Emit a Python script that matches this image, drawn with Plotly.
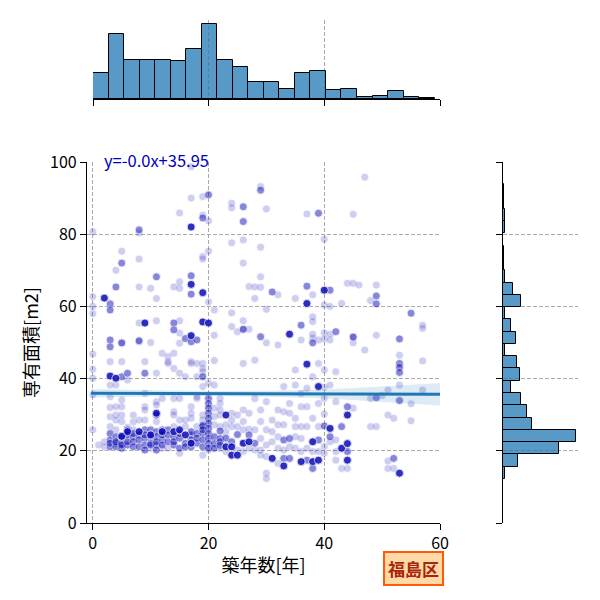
import numpy as np
import plotly.graph_objects as go

# points seen once (light)
age_light = [
    0, 0, 0, 0, 0, 0, 0, 0, 0,
    1,
    2, 2,
    3, 3, 3, 3, 3, 3,
    4, 4, 4, 4, 4, 4,
    5, 5, 5, 5, 5, 5, 5,
    6, 6, 6,
    7, 7, 7,
    8, 8, 8, 8, 8, 8,
    9, 9, 9, 9, 9,
    10, 10, 10,
    11, 11, 11, 11, 11, 11,
    12, 12, 12,
    13, 13, 13, 13,
    14, 14, 14, 14, 14, 14, 14,
    15, 15, 15, 15, 15, 15, 15, 15, 15, 15,
    16, 16, 16,
    17, 17, 17, 17, 17, 17, 17,
    18, 18, 18, 18, 18,
    19, 19, 19, 19, 19, 19, 19, 19, 19, 19, 19,
    20, 20, 20, 20, 20,
    21, 21, 21, 21, 21, 21, 21,
    22, 22, 22, 22, 22, 22,
    23, 23, 23,
    24, 24, 24, 24, 24, 24, 24, 24,
    25, 25, 25, 25,
    26, 26, 26, 26, 26, 26, 26, 26, 26,
    27, 27, 27, 27, 27,
    28, 28, 28, 28, 28, 28,
    29, 29, 29, 29, 29, 29, 29, 29, 29,
    30, 30, 30, 30, 30, 30, 30, 30, 30,
    31, 31, 31,
    32, 32, 32, 32, 32, 32, 32,
    33, 33, 33, 33,
    34, 34, 34,
    35, 35, 35, 35, 35, 35, 35,
    36, 36, 36, 36, 36, 36,
    37, 37, 37, 37, 37,
    38, 38, 38, 38, 38, 38, 38, 38,
    39, 39, 39, 39, 39,
    40, 40, 40, 40, 40, 40, 40, 40, 40, 40,
    41, 41, 41, 41, 41,
    42, 42, 42, 42, 42,
    43, 43,
    44, 44,
    45, 45, 45, 45, 45,
    46,
    47, 47,
    48, 48, 48,
    49, 49, 49,
    50,
    51, 51, 51, 51,
    52, 52,
    53, 53,
    55, 55,
    57, 57, 57, 57,
]
area_light = [
    80.7, 62.7, 60.0, 58.0, 46.8, 42.6, 40.1, 35.5, 25.8,
    21.6,
    22.5, 21.1,
    44.7, 38.2, 35.0, 32.0, 29.4, 26.7,
    70.0, 38.2, 32.2, 29.9, 28.5, 25.8,
    75.3, 49.8, 44.7, 34.1, 32.2, 29.9, 28.1,
    39.6, 23.5, 26.5,
    29.9, 25.8, 28.0,
    80.3, 73.1, 65.4, 55.4, 50.2, 28.5,
    44.7, 35.9, 32.2, 31.3, 28.5,
    65.0, 50.0, 20.7,
    62.2, 56.0, 41.5, 33.6, 32.7, 28.1,
    47.0, 34.5, 20.7,
    46.1, 44.7, 44.2, 20.7,
    65.4, 47.0, 42.8, 34.5, 30.8, 29.9, 26.7,
    85.9, 66.8, 65.0, 56.0, 52.6, 49.8, 41.5, 34.5, 28.5, 19.3,
    40.5, 28.5, 26.7,
    98.7, 90.0, 44.7, 44.2, 32.2, 30.4, 29.0,
    44.2, 40.5, 35.0, 34.5, 26.7,
    90.4, 85.3, 73.8, 73.1, 44.2, 42.8, 41.9, 37.8, 29.9, 28.5, 18.8,
    83.7, 75.3, 61.2, 38.7, 20.2,
    59.0, 52.0, 45.0, 38.2, 31.8, 29.5, 27.2,
    34.5, 33.1, 31.3, 29.9, 26.7, 20.7,
    27.2, 25.3, 19.8,
    88.6, 87.3, 77.6, 58.2, 54.4, 30.4, 28.5, 26.7,
    53.0, 29.9, 26.7, 20.2,
    78.4, 72.0, 56.0, 53.5, 44.2, 31.3, 28.1, 25.8, 19.8,
    65.5, 53.7, 30.4, 26.0, 20.7,
    65.4, 62.2, 45.1, 34.5, 25.8, 20.2,
    93.2, 76.4, 68.2, 65.3, 31.3, 28.1, 23.4, 20.2, 18.8,
    87.0, 59.2, 49.9, 33.6, 25.8, 21.6, 18.4, 13.8, 12.3,
    28.5, 25.3, 22.5,
    63.2, 49.3, 31.3, 27.2, 23.9, 20.7, 16.5,
    37.8, 30.8, 27.2, 20.2,
    33.1, 30.4, 21.1,
    62.2, 42.4, 38.2, 29.0, 26.7, 23.9, 20.7,
    50.7, 35.9, 32.2, 26.7, 23.4, 19.8,
    85.6, 37.3, 32.2, 26.7, 20.7,
    63.2, 57.1, 55.8, 51.2, 52.3, 40.5, 29.0, 19.8,
    50.7, 44.2, 33.1, 26.7, 19.8,
    78.6, 60.4, 52.7, 51.0, 42.4, 37.6, 34.5, 30.2, 21.2, 19.3,
    60.0, 50.7, 52.3, 38.2, 22.5,
    41.9, 33.6, 23.0, 19.8, 17.4,
    60.8, 15.1,
    66.4, 15.1,
    85.5, 66.4, 51.6, 49.9, 31.8,
    65.9,
    95.8, 47.9,
    61.6, 34.5, 26.7,
    65.9, 52.0, 26.7,
    35.3,
    36.8, 29.9, 17.2, 15.1,
    29.0, 15.1,
    46.5, 38.2,
    33.0, 28.3,
    54.8, 53.9, 44.9, 36.8,
]

# spots with a few listings on top of each other (medium)
age_mid = [
    3, 3, 3, 3, 3, 3, 3, 3,
    4, 4, 4, 4, 4,
    5, 5, 5, 5, 5, 5, 5,
    6, 6, 6, 6, 6,
    7, 7, 7, 7,
    8, 8, 8, 8, 8,
    9, 9, 9, 9, 9, 9,
    10, 10, 10, 10,
    11, 11, 11, 11, 11, 11, 11,
    12, 12, 12, 12,
    13, 13, 13,
    14, 14, 14, 14, 14,
    15, 15, 15,
    16, 16, 16,
    17, 17, 17, 17, 17, 17, 17,
    18, 18, 18, 18,
    19, 19, 19, 19, 19, 19, 19, 19,
    20, 20, 20, 20, 20, 20, 20, 20, 20, 20, 20, 20,
    21, 21, 21,
    22, 22, 22, 22,
    23, 24, 25,
    26, 26, 26,
    27, 28,
    29, 29,
    31,
    33, 33,
    34, 34,
    36,
    37, 37,
    38, 38,
    39, 39,
    40,
    41, 41,
    42, 43,
    44, 44,
    45,
    49, 49, 49,
    52,
    53, 53, 53, 53, 53,
    55,
]
area_mid = [
    60.7, 59.0, 50.7, 48.8, 24.8, 23.0, 21.1, 22.1,
    65.4, 23.9, 22.1, 21.1, 22.5,
    72.0, 49.9, 40.5, 23.9, 22.1, 20.7, 21.6,
    41.5, 25.8, 21.6, 22.5, 24.4,
    23.9, 22.5, 21.1, 24.8,
    81.2, 50.5, 24.4, 23.0, 21.1,
    41.5, 25.8, 23.5, 21.6, 20.2, 24.4,
    25.8, 23.9, 22.1, 21.6,
    68.2, 29.9, 25.3, 23.9, 21.6, 20.2, 22.5,
    25.8, 23.0, 24.4, 21.6,
    25.8, 22.5, 24.4,
    55.4, 53.5, 23.9, 21.6, 22.5,
    23.5, 20.7, 24.8,
    51.1, 22.1, 21.1,
    68.5, 63.4, 50.2, 24.4, 21.1, 25.3, 23.0,
    50.7, 24.8, 22.1, 23.5,
    84.5, 40.5, 26.7, 24.8, 23.0, 21.1, 27.0, 25.8,
    90.9, 34.5, 33.1, 31.8, 30.4, 29.0, 27.6, 26.2, 24.8, 23.4, 22.0, 20.7,
    23.9, 22.0, 20.7,
    23.4, 22.5, 25.5, 21.5,
    23.5, 22.5, 24.5,
    87.6, 83.5, 53.7,
    24.4, 22.1,
    92.2, 51.6,
    64.0,
    23.0, 17.9,
    23.4, 17.9,
    54.8,
    65.6, 17.4,
    49.9, 15.1,
    85.8, 23.0,
    26.9,
    64.5, 23.9,
    53.0, 26.7,
    32.2, 19.8,
    51.5,
    62.9, 60.7, 34.7,
    17.9,
    51.0, 44.2, 43.1, 41.7, 33.9,
    58.1,
]

# spots with many listings stacked (dark)
age_dark = [2, 3, 4, 5, 6, 8, 9, 10, 11, 12, 14, 15, 16,
            17, 17, 17, 17, 19, 19, 20, 23, 23, 24, 24, 25, 26, 27,
            31, 33, 34, 36, 37, 37, 38, 38, 39, 39, 40, 41, 43,
            44, 44, 44, 53]
area_dark = [62.3, 40.7, 40.1, 24.0, 25.3, 25.3, 55.4, 24.4, 30.4, 25.3, 25.3, 25.8, 24.4,
             82.0, 66.1, 51.9, 22.1, 63.8, 55.7, 55.4, 29.9, 21.1, 21.1, 18.8, 18.8, 22.1, 22.5,
             17.9, 15.8, 52.3, 17.0, 60.8, 44.0, 17.0, 22.5, 37.8, 17.4, 64.5, 26.2, 20.7,
             22.0, 29.9, 17.4, 13.8]

assert len(age_light) == len(area_light)
assert len(age_mid) == len(area_mid)
assert len(age_dark) == len(area_dark)

# marginal histograms (relative heights)
age_bin_edges = [0, 2.685, 5.37, 8.055, 10.74, 13.425, 16.11, 18.795, 21.48, 24.165, 26.85,
                 29.535, 32.22, 34.905, 37.59, 40.275, 42.96, 45.645, 48.33, 51.015, 53.7,
                 56.385, 59.07]
age_counts = [30, 75, 45, 45, 45, 43, 57, 86, 45, 37, 20, 20, 12, 30, 32, 10, 12, 2, 3, 9, 2, 1]
area_bin_edges = [12.2, 15.6, 19.0, 22.4, 25.8, 29.2, 32.6, 36.0, 39.4, 42.8, 46.2, 49.6, 53.0,
                  56.4, 59.8, 63.2, 66.6, 70.0, 73.4, 76.8, 80.2, 83.6, 87.0, 90.4, 93.8, 97.2,
                  100.6]
area_counts = [5, 31, 117, 152, 60, 50, 37, 16, 35, 29, 5, 26, 16, 5, 37, 20, 3.5, 1.5, 1.5,
               0.7, 3.5, 3.5, 1.5, 1.5, 0.5, 0.5]

# regression line and its confidence band
reg_x = [-0.3, 60]
reg_y = [35.95, 35.65]
ci_x = [-0.3, 10, 20, 30, 40, 50, 60]
ci_center = [35.95, 35.9, 35.85, 35.8, 35.75, 35.7, 35.65]
ci_half = [1.2, 0.85, 0.7, 0.85, 1.2, 2.1, 3.1]

xs = np.concatenate([age_light, np.repeat(age_mid, 3), np.repeat(age_dark, 8)])
ys = np.concatenate([area_light, np.repeat(area_mid, 3), np.repeat(area_dark, 8)])

FONT = "Noto Sans CJK JP"
BAR = "rgba(31,119,180,0.75)"
GRID = "#aaaaaa"
DASH = "4px,2px"

fig = go.Figure()

fig.add_trace(go.Scatter(
    x=xs, y=ys, mode="markers", xaxis="x", yaxis="y",
    marker=dict(size=8, color="#0000b4", opacity=0.19,
                line=dict(color="white", width=0.8)),
    hoverinfo="skip", showlegend=False))

lo = np.array(ci_center) - np.array(ci_half)
hi = np.array(ci_center) + np.array(ci_half)
fig.add_trace(go.Scatter(
    x=ci_x + ci_x[::-1], y=list(hi) + list(lo[::-1]), fill="toself",
    fillcolor="rgba(31,119,180,0.15)", line=dict(width=0), mode="lines",
    xaxis="x", yaxis="y", hoverinfo="skip", showlegend=False))
fig.add_trace(go.Scatter(
    x=reg_x, y=reg_y, mode="lines", line=dict(color="#1f77b4", width=3),
    xaxis="x", yaxis="y", showlegend=False))

ae = np.array(age_bin_edges)
fig.add_trace(go.Bar(
    x=(ae[:-1] + ae[1:]) / 2, y=age_counts, width=np.diff(ae),
    marker=dict(color=BAR, line=dict(color="black", width=1)),
    xaxis="x2", yaxis="y2", showlegend=False))

be = np.array(area_bin_edges)
fig.add_trace(go.Bar(
    y=(be[:-1] + be[1:]) / 2, x=area_counts, width=np.diff(be), orientation="h",
    marker=dict(color=BAR, line=dict(color="black", width=1)),
    xaxis="x3", yaxis="y3", showlegend=False))

axis_common = dict(showline=True, linecolor="black", linewidth=1.25, ticks="outside",
                   ticklen=6, tickwidth=1.25, tickcolor="black", zeroline=False,
                   showgrid=True, gridcolor=GRID, griddash=DASH, gridwidth=1,
                   automargin=False)

fig.update_layout(
    width=600, height=600,
    margin=dict(l=0, r=0, t=0, b=0, autoexpand=False),
    paper_bgcolor="white", plot_bgcolor="white",
    font=dict(family=FONT, size=16, color="black"),
    bargap=0,
    xaxis=dict(domain=[87 / 600, 440 / 600], range=[-1, 60], tickvals=[0, 20, 40, 60],
               anchor="y", title=dict(text="築年数[年]", font=dict(size=18), standoff=6),
               **axis_common),
    yaxis=dict(domain=[1 - 523 / 600, 1 - 162 / 600], range=[0, 100], dtick=20,
               anchor="x", title=dict(text="専有面積[m2]", font=dict(size=18), standoff=6),
               **axis_common),
    xaxis2=dict(domain=[93 / 600, 440 / 600], range=[0, 60], tickvals=[0, 20, 40, 60],
                anchor="y2", showticklabels=False, **axis_common),
    yaxis2=dict(domain=[1 - 99 / 600, 1 - 20 / 600], range=[0, 90.5], visible=False),
    xaxis3=dict(domain=[503 / 600, 578 / 600], range=[0, 156], visible=False),
    yaxis3=dict(domain=[1 - 523 / 600, 1 - 162 / 600], range=[0, 100], dtick=20,
                anchor="x3", showticklabels=False, **axis_common),
    annotations=[
        dict(text="y=-0.0x+35.95", x=1.6, y=1 - 160 / 600, xref="x", yref="paper",
             xanchor="left", yanchor="middle", showarrow=False,
             font=dict(size=16.5, color="#0000c0")),
        dict(text="<b>福島区</b>", x=414 / 600, y=1 - 568 / 600, xref="paper", yref="paper",
             xanchor="center", yanchor="middle", showarrow=False,
             font=dict(size=17, color="#a8260a"), bgcolor="#ffd9a6",
             bordercolor="#ff5a0a", borderwidth=2, borderpad=3),
    ],
)

fig.write_html("out.html", config={"displayModeBar": False},
               post_script="document.body.style.margin='0';")
